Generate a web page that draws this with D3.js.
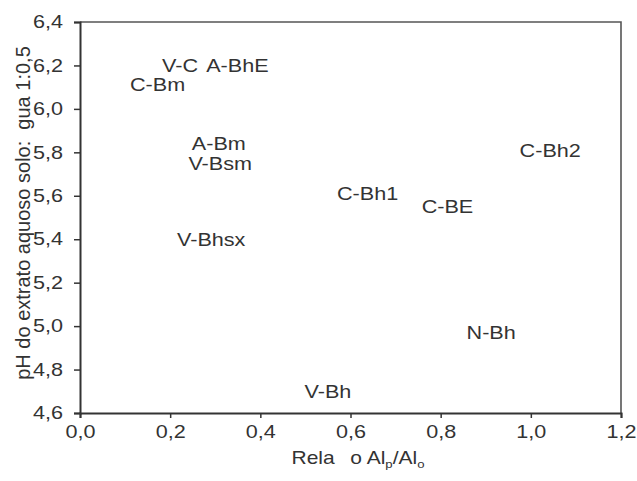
<!DOCTYPE html>
<html>
<head>
<meta charset="utf-8">
<script src="https://cdn.jsdelivr.net/npm/d3@7"></script>
<style>
  body { margin: 0; background: #fff; }
  text { font-family: "Liberation Sans", Arial, sans-serif; fill: #333; }
</style>
</head>
<body>
<div id="chart"></div>
<script>
// horizon labels, centre of each label: Alp/Alo ratio and pH
const labels = ["V-C", "A-BhE", "C-Bm", "A-Bm", "V-Bsm", "V-Bhsx", "C-Bh1", "C-BE", "C-Bh2", "N-Bh", "V-Bh"];
const ratioValues = [0.222, 0.349, 0.172, 0.308, 0.311, 0.291, 0.638, 0.815, 1.043, 0.912, 0.550];
const phValues = [6.20, 6.20, 6.11, 5.84, 5.75, 5.40, 5.61, 5.55, 5.81, 4.97, 4.70];
const xTicks = [0, 0.2, 0.4, 0.6, 0.8, 1.0, 1.2];
const yTicks = [4.6, 4.8, 5.0, 5.2, 5.4, 5.6, 5.8, 6.0, 6.2, 6.4];

const width = 637, height = 481;
const margin = {top: 22, right: 16, bottom: 68, left: 80};
const stretch = 1.2; // glyphs in the figure look wide

const svg = d3.select("#chart").append("svg")
    .attr("width", width)
    .attr("height", height);

const x = d3.scaleLinear().domain([0, 1.2]).range([margin.left, width - margin.right]);
const y = d3.scaleLinear().domain([4.6, 6.4]).range([height - margin.bottom, margin.top]);

const fmt = d => d3.format(".1f")(d).replace(".", ",");

// frame (top and right)
svg.append("path")
    .attr("d", `M${x(0)},${y(6.4)}H${x(1.2)}V${y(4.6)}`)
    .attr("fill", "none")
    .attr("stroke", "#555")
    .attr("stroke-width", 1.6);

const xAxis = svg.append("g")
    .attr("transform", `translate(0,${y(4.6)})`)
    .call(d3.axisBottom(x).tickValues(xTicks).tickFormat(fmt).tickSize(5).tickPadding(7));

const yAxis = svg.append("g")
    .attr("transform", `translate(${x(0)},0)`)
    .call(d3.axisLeft(y).tickValues(yTicks).tickFormat(fmt).tickSize(6).tickPadding(11));

[xAxis, yAxis].forEach(a => {
    a.select(".domain").attr("stroke", "#333").attr("stroke-width", 2);
    a.selectAll(".tick line").attr("stroke", "#333").attr("stroke-width", 1.5);
    a.selectAll(".tick text")
        .attr("font-size", 18)
        .attr("font-family", "Liberation Sans, Arial, sans-serif")
        .attr("fill", "#3a3a3a");
});

// stretch tick labels horizontally around their anchor
xAxis.selectAll(".tick text").attr("transform", `scale(${stretch},1)`);
yAxis.selectAll(".tick text").each(function() {
    const t = d3.select(this);
    const tx = +t.attr("x");
    t.attr("x", tx / stretch).attr("transform", `scale(${stretch},1)`);
});

// horizon labels
svg.append("g").selectAll("g")
    .data(labels.map((name, i) => ({name, rx: ratioValues[i], ph: phValues[i]})))
    .enter().append("g")
    .attr("transform", d => `translate(${x(d.rx)},${y(d.ph)}) scale(${stretch},1)`)
    .append("text")
    .attr("text-anchor", "middle")
    .attr("dy", "0.36em")
    .attr("font-size", 18)
    .attr("fill", "#333")
    .text(d => d.name);

// x axis title
const xt = svg.append("g")
    .attr("transform", `translate(358,464) scale(${stretch},1)`)
    .append("text")
    .attr("text-anchor", "middle")
    .attr("font-size", 17.5);
xt.append("tspan").text("Rela");
xt.append("tspan").attr("dx", 13).text("o Al");
xt.append("tspan").attr("font-size", 11).attr("dy", 4).text("p");
xt.append("tspan").attr("dy", -4).text("/Al");
xt.append("tspan").attr("font-size", 11).attr("dy", 4).text("o");

// y axis title
svg.append("text")
    .attr("transform", "translate(30,213) rotate(-90)")
    .attr("text-anchor", "middle")
    .attr("font-size", 20)
    .style("white-space", "pre")
    .text("pH do extrato aquoso solo:  gua 1:0,5");
</script>
</body>
</html>
